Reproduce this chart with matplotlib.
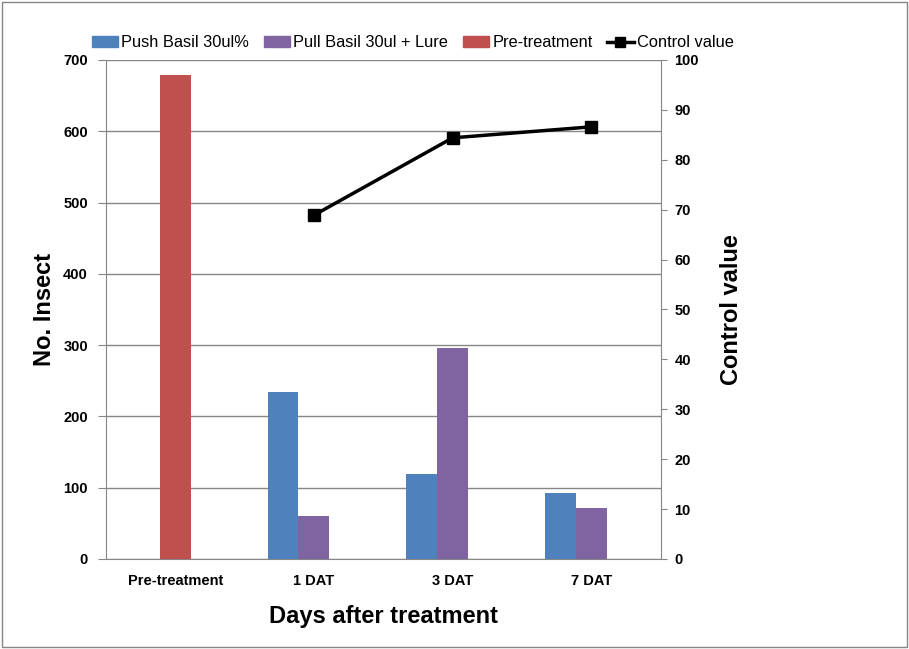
import matplotlib
matplotlib.use("Agg")
import matplotlib.pyplot as plt
import numpy as np
from matplotlib.lines import Line2D
from matplotlib.patches import Patch

# данные
categories = ["Pre-treatment", "1 DAT", "3 DAT", "7 DAT"]
push_basil = [0, 234, 119, 93]
pull_basil = [0, 60, 296, 71]
pre_treatment = [679, 0, 0, 0]
control_value = [None, 68.9, 84.4, 86.6]

PUSH_C = "#4F81BD"
PULL_C = "#8064A2"
PRE_C = "#C0504D"
GRID_C = "#868686"
W = 0.2235

plt.rcParams["font.family"] = ["Liberation Sans", "DejaVu Sans"]

fig = plt.figure(figsize=(9.09, 6.49), dpi=100)
ax = fig.add_axes([0.1166, 0.1387, 0.7268 - 0.1166, 0.9076 - 0.1387])
x = np.arange(len(categories))

# Pre-treatment только в первой категории; пары смещены как в Excel
ax.bar(x[1:] - W, push_basil[1:], W, color=PUSH_C, zorder=3)
ax.bar(x[1:], pull_basil[1:], W, color=PULL_C, zorder=3)
ax.bar(x[:1], pre_treatment[:1], W, color=PRE_C, zorder=3)

ax.set_xlim(-0.5, 3.5)
ax.set_ylim(0, 700)
ax.set_yticks(range(0, 701, 100))
ax.set_xticks(x)
ax.set_xticklabels(categories, fontsize=10.5, fontweight="bold")
ax.tick_params(axis="x", length=0, pad=11)
ax.tick_params(axis="y", labelsize=10.5, length=6, color=GRID_C, pad=7)
for t in ax.get_yticklabels():
    t.set_fontweight("bold")
ax.yaxis.grid(True, color=GRID_C, lw=1)
ax.set_axisbelow(True)
for s in ["top", "right"]:
    ax.spines[s].set_visible(False)
for s in ["left", "bottom"]:
    ax.spines[s].set_color(GRID_C)
ax.set_ylabel("No. Insect", fontsize=17, fontweight="bold", labelpad=5)
ax.set_xlabel("Days after treatment", fontsize=17, fontweight="bold", labelpad=12)

ax2 = ax.twinx()
cx = [i for i, v in enumerate(control_value) if v is not None]
cy = [v for v in control_value if v is not None]
ax2.plot(cx, cy, color="black", lw=2.5, marker="s", ms=9, zorder=5)
ax2.set_ylim(0, 100)
ax2.set_yticks(range(0, 101, 10))
ax2.tick_params(axis="y", labelsize=10.5, length=4, color=GRID_C, pad=6)
for t in ax2.get_yticklabels():
    t.set_fontweight("bold")
for s in ["top", "left", "bottom"]:
    ax2.spines[s].set_visible(False)
ax2.spines["right"].set_color(GRID_C)
ax2.set_ylabel("Control value", fontsize=17, fontweight="bold", labelpad=15)

handles = [
    Patch(color=PUSH_C),
    Patch(color=PULL_C),
    Patch(color=PRE_C),
    Line2D([0], [0], color="black", lw=2.5, marker="s", ms=7),
]
labels = ["Push Basil 30ul%", "Pull Basil 30ul + Lure", "Pre-treatment", "Control value"]
fig.legend(handles, labels, loc="center", bbox_to_anchor=(0.454, 0.934), ncol=4,
           frameon=False, fontsize=11.8, handlelength=1.6, handletextpad=0.2,
           columnspacing=0.9, borderaxespad=0)

# рамка вокруг всей картинки
fig.patches.append(plt.Rectangle((0.002, 0.003), 0.996, 0.994, transform=fig.transFigure,
                                 fill=False, ec=GRID_C, lw=1))

fig.savefig("out.png", dpi=100)
